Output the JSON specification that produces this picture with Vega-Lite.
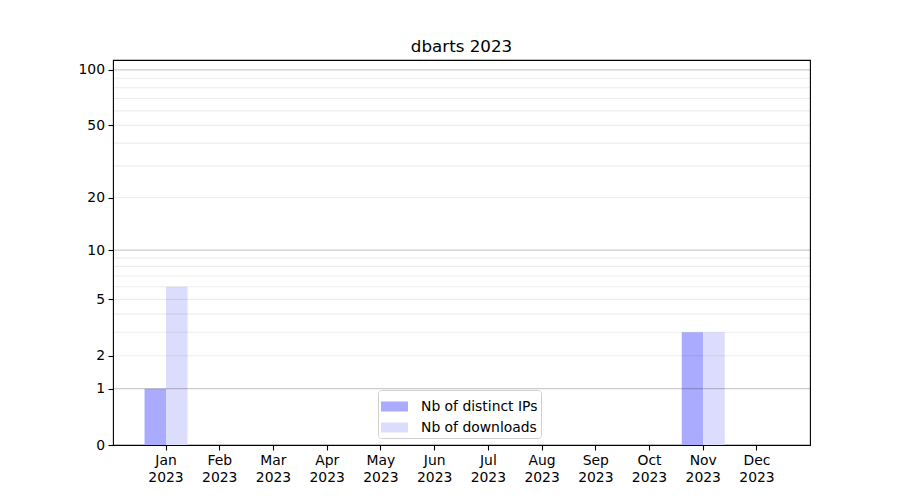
{
  "$schema": "https://vega.github.io/schema/vega-lite/v6.json",
  "width": 697,
  "height": 385,
  "autosize": {"type": "none"},
  "padding": {"left": 113, "top": 60, "right": 90, "bottom": 55},
  "background": "white",
  "title": {"text": "dbarts 2023", "fontSize": 16.7, "fontWeight": "normal", "font": "DejaVu Sans", "color": "black", "offset": 4, "anchor": "middle"},
  "config": {"view": {"stroke": "black", "strokeWidth": 1.1}, "font": "DejaVu Sans"},
  "datasets": {
    "bars": [
      {"month": "Jan", "series": "Nb of distinct IPs", "value": 1},
      {"month": "Jan", "series": "Nb of downloads", "value": 6},
      {"month": "Feb", "series": "Nb of distinct IPs", "value": 0},
      {"month": "Feb", "series": "Nb of downloads", "value": 0},
      {"month": "Mar", "series": "Nb of distinct IPs", "value": 0},
      {"month": "Mar", "series": "Nb of downloads", "value": 0},
      {"month": "Apr", "series": "Nb of distinct IPs", "value": 0},
      {"month": "Apr", "series": "Nb of downloads", "value": 0},
      {"month": "May", "series": "Nb of distinct IPs", "value": 0},
      {"month": "May", "series": "Nb of downloads", "value": 0},
      {"month": "Jun", "series": "Nb of distinct IPs", "value": 0},
      {"month": "Jun", "series": "Nb of downloads", "value": 0},
      {"month": "Jul", "series": "Nb of distinct IPs", "value": 0},
      {"month": "Jul", "series": "Nb of downloads", "value": 0},
      {"month": "Aug", "series": "Nb of distinct IPs", "value": 0},
      {"month": "Aug", "series": "Nb of downloads", "value": 0},
      {"month": "Sep", "series": "Nb of distinct IPs", "value": 0},
      {"month": "Sep", "series": "Nb of downloads", "value": 0},
      {"month": "Oct", "series": "Nb of distinct IPs", "value": 0},
      {"month": "Oct", "series": "Nb of downloads", "value": 0},
      {"month": "Nov", "series": "Nb of distinct IPs", "value": 3},
      {"month": "Nov", "series": "Nb of downloads", "value": 3},
      {"month": "Dec", "series": "Nb of distinct IPs", "value": 0},
      {"month": "Dec", "series": "Nb of downloads", "value": 0}
    ],
    "grid": [
      {"g": 1, "kind": "major"}, {"g": 10, "kind": "major"}, {"g": 100, "kind": "major"},
      {"g": 2, "kind": "minor"}, {"g": 3, "kind": "minor"}, {"g": 4, "kind": "minor"},
      {"g": 5, "kind": "minor"}, {"g": 6, "kind": "minor"}, {"g": 7, "kind": "minor"},
      {"g": 8, "kind": "minor"}, {"g": 9, "kind": "minor"},
      {"g": 20, "kind": "minor"}, {"g": 30, "kind": "minor"}, {"g": 40, "kind": "minor"},
      {"g": 50, "kind": "minor"}, {"g": 60, "kind": "minor"}, {"g": 70, "kind": "minor"},
      {"g": 80, "kind": "minor"}, {"g": 90, "kind": "minor"}
    ]
  },
  "layer": [
    {
      "data": {"name": "bars"},
      "mark": {"type": "bar"},
      "encoding": {
        "x": {
          "field": "month", "type": "nominal",
          "scale": {"domain": ["Jan", "Feb", "Mar", "Apr", "May", "Jun", "Jul", "Aug", "Sep", "Oct", "Nov", "Dec"], "paddingInner": 0.2, "paddingOuter": 0.587},
          "axis": {"title": null, "labelExpr": "[datum.value, '2023']", "labelAngle": 0, "labelFontSize": 13.9, "labelColor": "black", "labelFont": "DejaVu Sans", "tickColor": "black", "tickSize": 5, "tickWidth": 1.1, "labelPadding": 3, "domain": false, "grid": false, "labelLineHeight": 17}
        },
        "xOffset": {
          "field": "series", "type": "nominal",
          "scale": {"domain": ["Nb of distinct IPs", "Nb of downloads"], "paddingInner": 0, "paddingOuter": 0}
        },
        "y": {
          "field": "value", "type": "quantitative",
          "scale": {"type": "symlog", "constant": 1, "domain": [0, 113], "nice": false},
          "axis": {"title": null, "values": [0, 1, 2, 5, 10, 20, 50, 100], "format": "d", "labelFontSize": 13.9, "labelColor": "black", "labelFont": "DejaVu Sans", "tickColor": "black", "tickSize": 5, "tickWidth": 1.1, "labelPadding": 3.5, "domain": false, "grid": false}
        },
        "color": {
          "field": "series", "type": "nominal",
          "scale": {"domain": ["Nb of distinct IPs", "Nb of downloads"], "range": ["#aaaaff", "#dcdcfd"]},
          "legend": {"orient": "none", "legendX": 265, "legendY": 330, "title": null, "labelFontSize": 13.9, "labelColor": "black", "labelFont": "DejaVu Sans", "symbolType": "M-1,-0.37H1V0.37H-1Z", "symbolSize": 729, "symbolStrokeWidth": 0, "symbolOpacity": 1, "strokeColor": "#d0d0d0", "fillColor": "white", "padding": 3, "cornerRadius": 3, "rowPadding": 0, "labelOffset": 13}
        }
      }
    },
    {
      "data": {"name": "grid"},
      "mark": {"type": "rule", "color": "black", "strokeWidth": 1.1},
      "encoding": {
        "y": {
          "field": "g", "type": "quantitative",
          "scale": {"type": "symlog", "constant": 1, "domain": [0, 113], "nice": false},
          "axis": {"title": null, "values": [0, 1, 2, 5, 10, 20, 50, 100], "format": "d", "labelFontSize": 13.9, "labelColor": "black", "labelFont": "DejaVu Sans", "tickColor": "black", "tickSize": 5, "tickWidth": 1.1, "labelPadding": 3.5, "domain": false, "grid": false}
        },
        "opacity": {"field": "kind", "type": "nominal", "scale": {"domain": ["major", "minor"], "range": [0.2, 0.07]}, "legend": null}
      }
    }
  ]
}
